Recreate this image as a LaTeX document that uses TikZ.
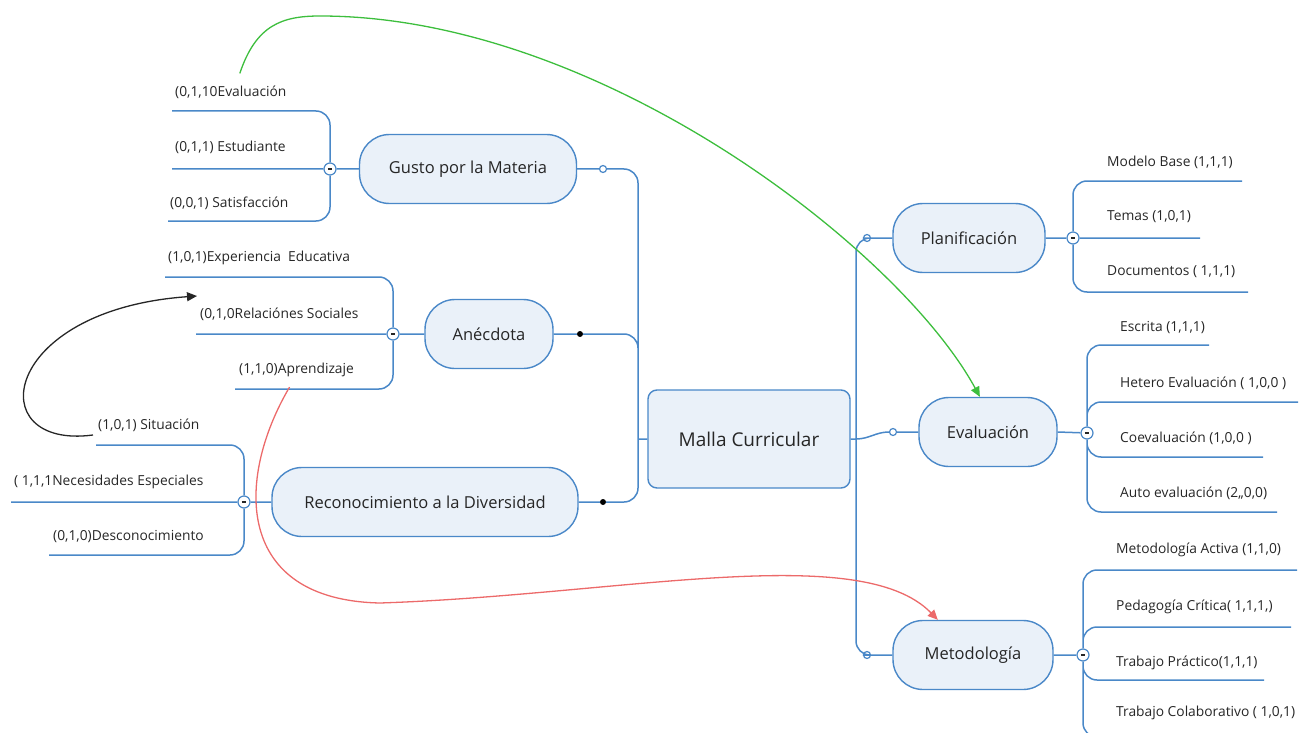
\documentclass[tikz,border=0pt]{standalone}
\usepackage{fontspec}
\setmainfont{Open Sans}
\usetikzlibrary{positioning, arrows.meta, calc}

\definecolor{mmline}{HTML}{4A88C8}
\definecolor{mmfill}{HTML}{EAF1F9}
\definecolor{mmtext}{HTML}{262626}
\definecolor{relgreen}{HTML}{3DBE3D}
\definecolor{relred}{HTML}{EC6A6A}

\begin{document}
\begin{tikzpicture}[x=1pt, y=-1pt,
    central/.style={draw=mmline, fill=mmfill, line width=1.4pt, rounded corners=9pt,
      minimum width=202pt, minimum height=98pt, text=mmtext, font=\fontsize{19}{22}\selectfont},
    topic/.style={draw=mmline, fill=mmfill, line width=1.4pt, rounded corners=30pt,
      minimum height=69pt, text=mmtext, font=\fontsize{16.5}{20}\selectfont},
    leaf/.style={anchor=west, inner sep=0pt, text=mmtext, font=\fontsize{13.8}{16}\selectfont},
    link/.style={draw=mmline, line width=1.5pt, rounded corners=14pt},
    knot/.style={circle, draw=mmline, fill=white, line width=1.2pt, minimum size=12pt, inner sep=0pt,
      path picture={\draw[mmtext, line width=1.3pt]
        ([xshift=-2.2pt]path picture bounding box.center) -- ([xshift=2.2pt]path picture bounding box.center);}},
    ring/.style={circle, draw=mmline, fill=white, line width=1.2pt, minimum size=7pt, inner sep=0pt},
    dot/.style={circle, fill=black, minimum size=6pt, inner sep=0pt},
    rel/.style={line width=1.3pt, -{Triangle[length=10pt, width=9pt]}}
  ]
  \useasboundingbox (0,0) rectangle (1304,733);
  \clip (0,0) rectangle (1304,733);

  % main topics
  \node[central] (malla) at (749,439) {Malla Curricular};
  \node[topic, minimum width=217pt] (gusto) at (468,169) {Gusto por la Materia};
  \node[topic, minimum width=128pt] (anec) at (489,334) {Anécdota};
  \node[topic, minimum width=306pt] (recon) at (425,502) {Reconocimiento a la Diversidad};
  \node[topic, minimum width=152pt] (plan) at (969,238) {Planificación};
  \node[topic, minimum width=138pt] (eval) at (988,432) {Evaluación};
  \node[topic, minimum width=160pt] (meto) at (973,655) {Metodología};

  % joints
  \coordinate (trunkL) at (638,439);
  \coordinate (trunkR) at (856,439);
  \node[ring] (gring) at (603,169) {};
  \node[dot] (adot) at (580,334) {};
  \node[dot] (rdot) at (603,502) {};
  \node[ring] (pring) at (867,238) {};
  \node[ring] (ering) at (893,432) {};
  \node[ring] (mring) at (867,655) {};
  \node[knot] (gk) at (330,169) {};
  \node[knot] (ak) at (393,334) {};
  \node[knot] (rk) at (244,502) {};
  \node[knot] (pk) at (1073,238) {};
  \node[knot] (ek) at (1087,433) {};
  \node[knot] (mk) at (1083,655) {};

  % leaves
  \node[leaf] (lg1) at (175,92) {(0,1,10Evaluación};
  \node[leaf] (lg2) at (175,147) {(0,1,1) Estudiante};
  \node[leaf] (lg3) at (170,203) {(0,0,1) Satisfacción};
  \node[leaf] (la1) at (168,258) {(1,0,1)Experiencia\ \ Educativa};
  \node[leaf] (la2) at (200,314) {(0,1,0Relaciónes Sociales};
  \node[leaf] (la3) at (239,370) {(1,1,0)Aprendizaje};
  \node[leaf] (lr1) at (98,425) {(1,0,1) Situación};
  \node[leaf] (lr2) at (14,482) {( 1,1,1Necesidades Especiales};
  \node[leaf] (lr3) at (53,537) {(0,1,0)Desconocimiento};
  \node[leaf] (lp1) at (1107,162) {Modelo Base (1,1,1)};
  \node[leaf] (lp2) at (1107,217) {Temas (1,0,1)};
  \node[leaf] (lp3) at (1107,272) {Documentos ( 1,1,1)};
  \node[leaf] (le1) at (1120,328) {Escrita (1,1,1)};
  \node[leaf] (le2) at (1120,383) {Hetero Evaluación ( 1,0,0 )};
  \node[leaf] (le3) at (1120,438) {Coevaluación (1,0,0 )};
  \node[leaf] (le4) at (1120,493) {Auto evaluación (2,,0,0)};
  \node[leaf] (lm1) at (1116,550) {Metodología Activa (1,1,0)};
  \node[leaf] (lm2) at (1116,607) {Pedagogía Crítica( 1,1,1,)};
  \node[leaf] (lm3) at (1116,663) {Trabajo Práctico(1,1,1)};
  \node[leaf] (lm4) at (1116,713) {Trabajo Colaborativo ( 1,0,1)};

  % underline ends
  \coordinate (lg1u) at (172,111);
  \coordinate (lg2u) at (172,169);
  \coordinate (lg3u) at (168,221);
  \coordinate (la1u) at (165,277);
  \coordinate (la2u) at (196,334);
  \coordinate (la3u) at (235,389);
  \coordinate (lr1u) at (96,445);
  \coordinate (lr2u) at (11,502);
  \coordinate (lr3u) at (49,555);
  \coordinate (lp1u) at (1242,181);
  \coordinate (lp2u) at (1200,238);
  \coordinate (lp3u) at (1248,292);
  \coordinate (le1u) at (1209,345);
  \coordinate (le2u) at (1298,402);
  \coordinate (le3u) at (1263,457);
  \coordinate (le4u) at (1277,512);
  \coordinate (lm1u) at (1297,570);
  \coordinate (lm2u) at (1291,627);
  \coordinate (lm3u) at (1264,680);
  \coordinate (lm4u) at (1300,737);

  % trunks
  \path[link]
    (gusto.east) -- (gring)
    (gring) -| (trunkL)
    (anec.east) -- (adot)
    (adot) -| (trunkL)
    (recon.east) -- (rdot)
    (rdot) -| (trunkL)
    (trunkL) -- (malla.west)
    (malla.east) -- (trunkR)
    (trunkR) |- (pring)
    (trunkR) |- (mring)
    (trunkR) to[out=0, in=180] (ering)
    (pring) -- (plan.west)
    (ering) -- (eval.west)
    (mring) -- (meto.west);

  % branches
  \path[link]
    (gusto.west) -- (gk)
    (gk) |- (lg1u) (gk) -- (lg2u) (gk) |- (lg3u)
    (anec.west) -- (ak)
    (ak) |- (la1u) (ak) -- (la2u) (ak) |- (la3u)
    (recon.west) -- (rk)
    (rk) |- (lr1u) (rk) -- (lr2u) (rk) |- (lr3u)
    (plan.east) -- (pk)
    (pk) |- (lp1u) (pk) -- (lp2u) (pk) |- (lp3u)
    (eval.east) -- (ek)
    (ek) |- (le1u) (ek) |- (le2u) (ek) |- (le3u) (ek) |- (le4u)
    (meto.east) -- (mk)
    (mk) |- (lm1u) (mk) |- (lm2u) (mk) |- (lm3u) (mk) |- (lm4u);

  % relations
  \draw[rel, relgreen] ([xshift=9pt, yshift=12pt]lg1.north)
    .. controls (256,25) and (282,16) .. (320,16)
    .. controls (600,16) and (900,250) .. (eval.103);
  \draw[rel, relred] ([xshift=-7pt, yshift=-10pt]la3.south)
    .. controls (235,480) and (235,600) .. (380,603)
    .. controls (620,595) and (860,540) .. (meto.135);
  \draw[rel, black!85] ([xshift=-5pt, yshift=-10pt]lr1.west)
    .. controls (-20,450) and (0,310) .. ([xshift=-3pt, yshift=18pt]la2.west);
\end{tikzpicture}
\end{document}
